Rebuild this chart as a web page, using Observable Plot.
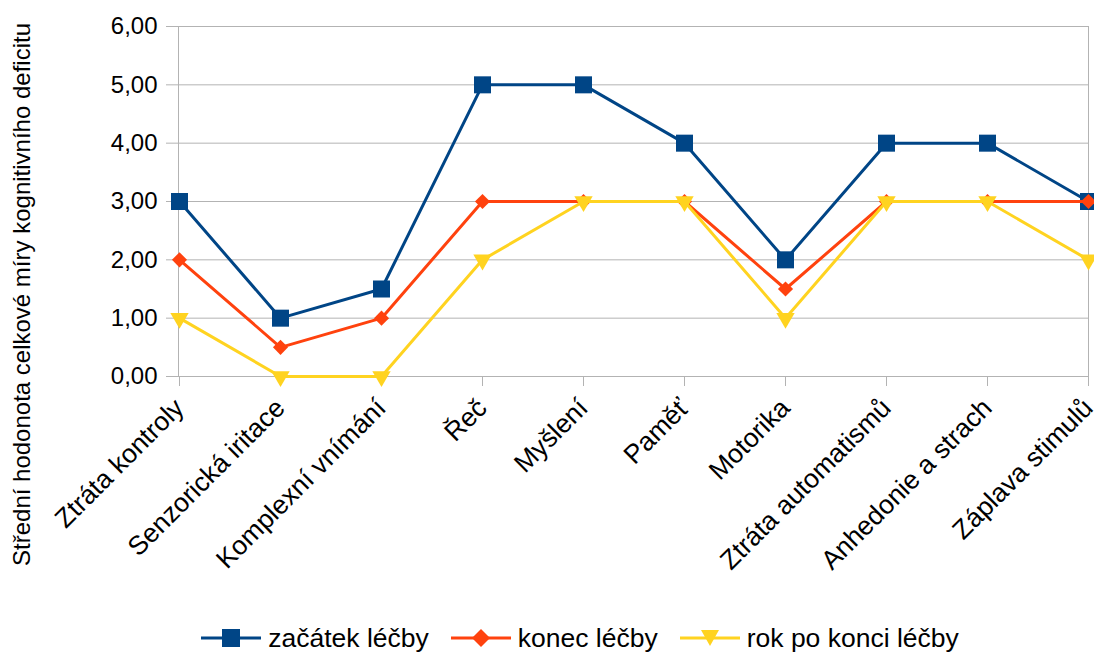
<!DOCTYPE html>
<html>
<head>
<meta charset="utf-8">
<script src="https://cdn.jsdelivr.net/npm/d3@7"></script>
<script src="https://cdn.jsdelivr.net/npm/@observablehq/plot@0.6"></script>
<style>
  html, body { margin: 0; padding: 0; background: #fff; }
  #chart { width: 1094px; height: 652px; position: relative; font-family: "Liberation Sans", Arial, sans-serif; }
  #legend { display: flex; justify-content: center; align-items: center; height: 32px; margin-top: 2px; font-size: 26.5px; color: #000; padding-left: 66px; }
  .item { display: flex; align-items: center; margin: 0 11px; }
  .item svg { margin-right: 7px; }
</style>
</head>
<body>
<div id="chart"></div>
<script>
// Categories of cognitive deficit
const categories = [
  "Ztráta kontroly", "Senzorická iritace", "Komplexní vnímání", "Řeč", "Myšlení",
  "Paměť", "Motorika", "Ztráta automatismů", "Anhedonie a strach", "Záplava stimulů"
];
// Mean values per series
const zacatekLecby = [3, 1, 1.5, 5, 5, 4, 2, 4, 4, 3];
const konecLecby = [2, 0.5, 1, 3, 3, 3, 1.5, 3, 3, 3];
const rokPoKonci = [1, 0, 0, 2, 3, 3, 1, 3, 3, 2];
const seriesNames = ["začátek léčby", "konec léčby", "rok po konci léčby"];
const seriesColors = ["#004586", "#ff420e", "#ffd320"];
const yTicks = [0, 1, 2, 3, 4, 5, 6];
const yTitle = "Střední hodonota celkové míry kognitivního deficitu";

const seriesValues = [zacatekLecby, konecLecby, rokPoKonci];
const rows = seriesValues.map((vals, s) =>
  categories.map((c, i) => ({ category: c, value: vals[i], series: seriesNames[s] }))
);

const symbolSpec = [
  { symbol: "square", r: 9.6, rotate: 0 },
  { symbol: "diamond2", r: 6.8, rotate: 0 },
  { symbol: "triangle", r: 6.8, rotate: 180 }
];

const fmt = d => d3.format(".2f")(d).replace(".", ",");

const seriesMarks = rows.flatMap((data, s) => [
  Plot.line(data, { x: "category", y: "value", stroke: seriesColors[s], strokeWidth: 3 }),
  Plot.dot(data, {
    x: "category", y: "value",
    symbol: () => symbolSpec[s].symbol,
    r: symbolSpec[s].r,
    rotate: symbolSpec[s].rotate,
    fill: seriesColors[s], stroke: "none"
  })
]);

const chart = Plot.plot({
  width: 1094,
  height: 620,
  marginLeft: 178,
  marginRight: 6,
  marginTop: 26,
  marginBottom: 244,
  style: { fontFamily: "Liberation Sans, Arial, sans-serif", fontSize: "24px", color: "#000", background: "#fff", overflow: "visible" },
  x: { type: "point", domain: categories, padding: 0 },
  y: { domain: [0, 6] },
  symbol: { type: "identity" },
  marks: [
    Plot.gridY(yTicks, { stroke: "#b3b3b3", strokeOpacity: 1 }),
    Plot.frame({ stroke: "#b3b3b3" }),
    Plot.axisY(yTicks, { tickSize: 12, tickPadding: 9, stroke: "#b3b3b3", fill: "#000", tickFormat: fmt, label: null }),
    Plot.axisX({ tickSize: 10, tickPadding: 17, tickRotate: -45, stroke: "#b3b3b3", fill: "#000", fontSize: 26.5, label: null }),
    Plot.text([yTitle], { frameAnchor: "left", textAnchor: "middle", rotate: -90, dx: -156, dy: 93, fontSize: 24, fill: "#000" }),
    ...seriesMarks
  ]
});
document.getElementById("chart").appendChild(chart);

// Legend below the plot
const legend = document.createElement("div");
legend.id = "legend";
const legendSymbols = [
  '<rect x="21" y="7" width="18" height="18"/>',
  '<path d="M30,7 L39,16 L30,25 L21,16 Z"/>',
  '<path d="M21,8 L39,8 L30,24 Z"/>'
];
seriesNames.forEach((name, s) => {
  const item = document.createElement("div");
  item.className = "item";
  item.innerHTML =
    `<svg width="60" height="32"><line x1="0" x2="60" y1="16" y2="16" stroke="${seriesColors[s]}" stroke-width="3"/>` +
    `<g fill="${seriesColors[s]}">${legendSymbols[s]}</g></svg><span>${name}</span>`;
  legend.appendChild(item);
});
document.getElementById("chart").appendChild(legend);
</script>
</body>
</html>
